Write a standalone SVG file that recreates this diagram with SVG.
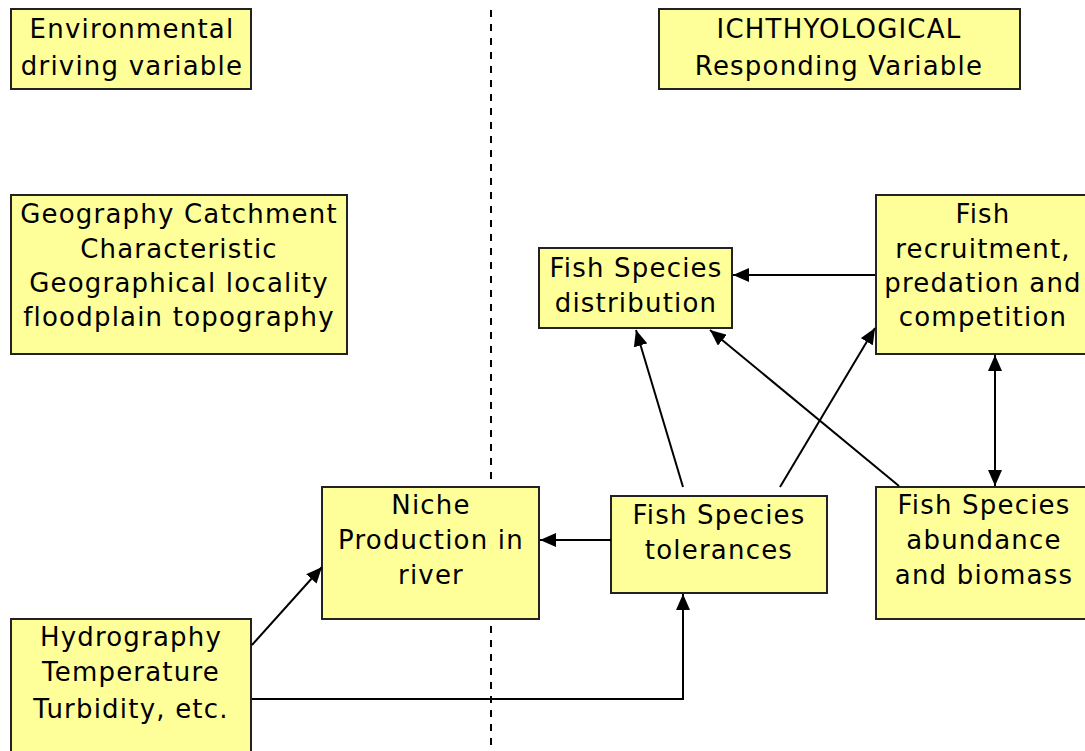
<svg xmlns="http://www.w3.org/2000/svg" width="1085" height="751" viewBox="0 0 1085 751">
<style>
.box{fill:#FFFF99;stroke:#222;stroke-width:2}
.t{font-family:"DejaVu Sans",Verdana,sans-serif;font-size:26px;fill:#000;text-anchor:middle;letter-spacing:1.2px}
.c{stroke:#000;stroke-width:2;fill:none}
</style>
<defs>
<marker id="ah" markerUnits="userSpaceOnUse" markerWidth="17" markerHeight="14" refX="16" refY="7" orient="auto-start-reverse">
<path d="M0,0 L16,7 L0,14 z" fill="#000"/>
</marker>
</defs>
<rect width="1085" height="751" fill="#fff"/>
<line x1="491" y1="10" x2="491" y2="751" stroke="#000" stroke-width="2" stroke-dasharray="7 7"/>
<g id="env">
<rect class="box" x="11" y="9" width="240" height="80"/>
<text class="t" x="132" y="38">Environmental</text>
<text class="t" x="132" y="75">driving variable</text>
</g>
<g id="ich">
<rect class="box" x="659" y="9" width="361" height="80"/>
<text class="t" x="839" y="38">ICHTHYOLOGICAL</text>
<text class="t" x="839" y="75">Responding Variable</text>
</g>
<g id="geo">
<rect class="box" x="11" y="195" width="336" height="159"/>
<text class="t" x="179" y="223">Geography Catchment</text>
<text class="t" x="179" y="258">Characteristic</text>
<text class="t" x="179" y="292">Geographical locality</text>
<text class="t" x="179" y="326">floodplain topography</text>
</g>
<g id="dist">
<rect class="box" x="539" y="248" width="193" height="80"/>
<text class="t" x="636" y="277">Fish Species</text>
<text class="t" x="636" y="312">distribution</text>
</g>
<g id="recr">
<rect class="box" x="876" y="195" width="214" height="159"/>
<text class="t" x="983" y="223">Fish</text>
<text class="t" x="983" y="258">recruitment,</text>
<text class="t" x="983" y="292">predation and</text>
<text class="t" x="983" y="326">competition</text>
</g>
<g id="niche">
<rect class="box" x="322" y="487" width="217" height="132"/>
<text class="t" x="431" y="514">Niche</text>
<text class="t" x="431" y="549">Production in</text>
<text class="t" x="431" y="584">river</text>
</g>
<g id="tol">
<rect class="box" x="611" y="496" width="216" height="97"/>
<text class="t" x="719" y="524">Fish Species</text>
<text class="t" x="719" y="559">tolerances</text>
</g>
<g id="abund">
<rect class="box" x="876" y="487" width="214" height="132"/>
<text class="t" x="984" y="514">Fish Species</text>
<text class="t" x="984" y="549">abundance</text>
<text class="t" x="984" y="584">and biomass</text>
</g>
<g id="hydro">
<rect class="box" x="11" y="619" width="240" height="140"/>
<text class="t" x="131" y="646">Hydrography</text>
<text class="t" x="131" y="681">Temperature</text>
<text class="t" x="131" y="718">Turbidity, etc.</text>
</g>
<g id="connectors">
<line class="c" x1="875" y1="275" x2="733" y2="275" marker-end="url(#ah)"/>
<line class="c" x1="611" y1="540" x2="540" y2="540" marker-end="url(#ah)"/>
<line class="c" x1="252" y1="645" x2="322" y2="567" marker-end="url(#ah)"/>
<path class="c" d="M252,699 H683 V594" marker-end="url(#ah)"/>
<line class="c" x1="683" y1="487" x2="636" y2="330" marker-end="url(#ah)"/>
<line class="c" x1="780" y1="487" x2="875" y2="328" marker-end="url(#ah)"/>
<line class="c" x1="899" y1="486" x2="710" y2="330" marker-end="url(#ah)"/>
<line class="c" x1="995" y1="355" x2="995" y2="486" marker-start="url(#ah)" marker-end="url(#ah)"/>
</g>
</svg>
